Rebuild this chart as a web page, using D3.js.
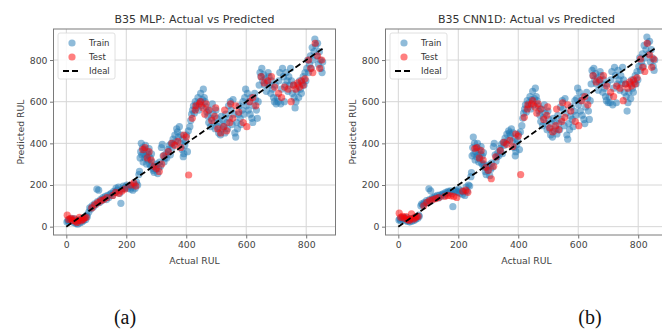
<!DOCTYPE html>
<html>
<head>
<meta charset="utf-8">
<script src="https://cdn.jsdelivr.net/npm/d3@7"></script>
<style>
  body { margin: 0; background: #fff; }
  text { font-family: "DejaVu Sans", sans-serif; }
</style>
</head>
<body>
<div class="chart"></div>
<script>
const w = 662;
const h = 330;

const ticks = [0, 200, 400, 600, 800];
const titles = ['B35 MLP: Actual vs Predicted', 'B35 CNN1D: Actual vs Predicted'];
const captions = ['(a)', '(b)'];
const legendLabels = ['Train', 'Test', 'Ideal'];
const ideal = [0, 855];

// train: actual RUL
const trainActual = [
  2, 5, 8, 12, 15, 18, 22, 25, 28, 32, 35, 38, 42, 45, 48, 52, 55, 58, 62, 65, 68, 70,
  75, 78, 82, 86, 90, 94, 98, 102, 104, 108, 110, 114, 118, 122, 126, 130, 134, 138, 142, 146,
  150, 154, 158, 162, 166, 170, 174, 178, 182, 186, 190, 194, 198, 202, 206, 210, 214, 218,
  222, 226, 230, 234, 238, 242, 244,
  246, 248, 250, 252, 254, 256, 258, 260, 262, 264, 266, 268, 270, 272, 274, 276, 278, 280,
  282, 284, 286, 288,
  290, 293, 296, 299, 302, 305, 308, 311, 314, 317, 320, 323, 326, 329,
  332, 335, 338, 341, 344, 347, 350, 353, 356, 359, 362, 365, 368, 371, 374, 377, 380, 383,
  386, 389, 390, 392, 395, 398, 401, 404, 407,
  412, 415, 418, 421, 424, 427, 430, 433, 436, 439, 442, 445, 448, 451, 454, 457, 460, 463, 466, 469,
  472, 475, 478, 481, 484, 487, 490, 493, 496, 499, 502, 505, 508, 511, 514, 517, 520, 523,
  526, 529, 532, 535, 538, 541, 544, 547, 550, 553, 556, 559,
  562, 565, 568, 571, 574, 577, 580, 583, 586, 589, 592, 595, 598, 601, 604, 607, 610, 613,
  616, 619, 622, 625, 628, 631, 634, 637, 640,
  643, 646, 649, 652, 655, 658, 661, 664, 667, 670, 673, 676, 679, 682, 685, 688, 691, 694, 697, 700,
  703, 706, 709, 712, 715, 718, 721, 724, 727, 730, 733, 736, 739, 742, 745, 748, 751, 754, 757, 760,
  763, 766, 769, 772, 775, 778, 781, 784, 787, 790, 793, 796, 799,
  802, 805, 808, 811, 814, 817, 820, 823, 826, 829, 832, 835, 838, 841, 844, 847, 850, 853, 855
];

// train: MLP predicted RUL
const mlpTrain = [
  22, 30, 25, 35, 28, 40, 32, 20, 38, 15, 25, 12, 30, 18, 35, 22, 40, 30, 45, 35, 55, 48,
  70, 90, 85, 100, 95, 110, 105, 180, 120, 175, 115, 130, 125, 140, 135, 145, 130, 150, 140, 155,
  160, 150, 170, 165, 185, 175, 190, 160, 112, 180, 195, 185, 190, 200, 185, 195, 180, 190,
  175, 205, 185, 215, 200, 250, 265,
  330, 360, 400, 345, 380, 310, 350, 370, 330, 390, 340, 300, 360, 320, 345, 375, 300, 330,
  290, 350, 310, 280,
  270, 260, 290, 275, 300, 255, 280, 310, 290, 380, 395, 340, 310, 330,
  350, 330, 370, 360, 390, 345, 400, 380, 420, 395, 440, 410, 470, 455, 430, 480, 400, 440,
  370, 420, 336, 350, 390, 410, 440, 360, 460,
  480, 510, 540, 560, 580, 545, 600, 570, 590, 620, 560, 600, 640, 580, 610, 660, 620, 600, 575, 550,
  530, 500, 560, 480, 520, 590, 540, 500, 470, 560, 520, 480, 450, 500, 440, 530, 470, 510,
  480, 450, 540, 500, 470, 580, 520, 600, 560, 490, 610, 540,
  450, 430, 500, 470, 540, 580, 520, 490, 560, 600, 540, 620, 660, 580, 640, 560, 600, 540,
  620, 520, 500, 580, 640, 610, 560, 520, 600,
  680, 740, 720, 760, 700, 730, 680, 710, 650, 690, 740, 720, 680, 640, 700, 660, 620, 600, 680, 590,
  620, 600, 700, 740, 590, 660, 760, 720, 600, 680, 740, 700, 650, 720, 680, 760, 700, 640, 680, 620,
  570, 600, 650, 680, 620, 700, 660, 640, 690, 720, 680, 740, 700,
  760, 800, 740, 780, 820, 760, 860, 800, 840, 900, 870, 820, 880, 780, 840, 800, 760, 740, 790
];

// train: CNN1D predicted RUL
const cnnTrain = [
  32, 38, 30, 42, 35, 45, 40, 28, 44, 25, 32, 22, 38, 26, 40, 30, 45, 36, 48, 40, 55, 50,
  100, 110, 105, 115, 112, 125, 118, 182, 130, 172, 125, 140, 135, 145, 140, 150, 138, 152, 145, 155,
  158, 150, 165, 160, 170, 165, 172, 158, 96, 168, 175, 170, 165, 180, 160, 172, 155, 168,
  150, 190, 170, 200, 195, 240, 260,
  340, 380, 430, 350, 400, 320, 360, 380, 335, 400, 345, 310, 370, 325, 350, 385, 305, 340,
  295, 355, 300, 285,
  265, 250, 285, 270, 295, 245, 275, 305, 285, 385, 400, 345, 315, 335,
  355, 340, 375, 365, 395, 350, 405, 390, 425, 400, 445, 415, 460, 450, 440, 470, 410, 450,
  380, 425, 340, 360, 395, 415, 445, 370, 455,
  485, 520, 545, 565, 585, 550, 605, 575, 595, 625, 565, 610, 650, 585, 615, 665, 625, 605, 580, 555,
  535, 505, 565, 485, 525, 585, 545, 495, 465, 555, 515, 470, 440, 495, 430, 520, 460, 505,
  470, 445, 535, 495, 465, 575, 515, 605, 565, 485, 615, 545,
  440, 420, 495, 465, 530, 575, 515, 480, 555, 605, 535, 615, 665, 585, 645, 555, 605, 535,
  625, 515, 495, 575, 645, 615, 555, 515, 605,
  685, 750, 725, 760, 705, 735, 685, 715, 655, 695, 745, 725, 685, 645, 705, 665, 625, 605, 685, 595,
  625, 595, 705, 745, 585, 665, 765, 725, 595, 685, 750, 705, 655, 725, 685, 765, 705, 645, 685, 625,
  555, 595, 645, 685, 615, 705, 665, 645, 695, 725, 685, 745, 705,
  770, 810, 750, 790, 830, 770, 870, 810, 850, 910, 880, 830, 890, 790, 850, 810, 770, 750, 800
];

// test: actual RUL
const testActual = [
  3, 8, 14, 20, 26, 30, 36, 40, 44, 50, 56, 60, 66,
  85, 95, 105, 115, 125, 135, 155, 165, 175, 185, 195, 215, 225, 232,
  255, 262, 270, 276, 283,
  292, 300, 310, 318, 325,
  340, 352, 362, 372, 382, 392, 400,
  408,
  420, 432, 444, 456, 466,
  475, 485, 495, 505, 515, 525, 535, 545, 555,
  565, 575, 590, 602, 612, 622, 632,
  650, 660, 672, 684, 695,
  708, 718, 728, 740, 750, 758,
  765, 772, 778, 784, 790, 796,
  808, 815, 822, 830, 838, 845, 852,
  430, 448, 462, 498, 528, 548
];

const mlpTest = [
  55, 35, 40, 30, 38, 25, 20, 30, 45, 28, 35, 42, 45,
  90, 105, 115, 125, 130, 140, 150, 165, 160, 170, 180, 200, 210, 195,
  370, 380, 330, 360, 320,
  290, 280, 265, 300, 340,
  360, 400, 390, 410, 380, 440, 430,
  248,
  520, 580, 590, 570, 590,
  560, 510, 530, 470, 450, 480, 460, 500, 520,
  580, 550, 500, 480, 600, 620, 580,
  720, 690, 700, 720, 670,
  640, 620, 670, 660, 600, 680,
  660, 690, 670, 700, 680, 710,
  800, 760, 740, 880, 820, 760, 800,
  560, 600, 540, 570, 560, 590
];

const cnnTest = [
  65, 45, 50, 40, 48, 35, 30, 38, 62, 36, 42, 48, 50,
  100, 115, 125, 130, 135, 140, 145, 150, 148, 145, 140, 170, 175, 165,
  375, 380, 330, 365, 320,
  285, 270, 230, 290, 335,
  365, 405, 395, 415, 385, 445, 435,
  250,
  525, 585, 590, 575, 590,
  565, 515, 535, 475, 455, 485, 465, 505, 525,
  585, 555, 505, 485, 605, 625, 585,
  725, 695, 705, 725, 675,
  645, 625, 675, 665, 605, 685,
  665, 695, 675, 705, 685, 715,
  805, 765, 745, 880, 825, 765, 805,
  565, 605, 545, 575, 565, 595
];

const panels = [
  { left: 53.5, train: mlpTrain, test: mlpTest },
  { left: 385.5, train: cnnTrain, test: cnnTest }
];

const svg = d3.select('.chart').append('svg')
  .attr('width', w)
  .attr('height', h);

const plotTop = 29;
const plotBottom = 235;
const pw = 282;

panels.forEach((p, k) => {
  const x = d3.scaleLinear().domain([-42.75, 897.75]).range([p.left, p.left + pw]);
  const y = d3.scaleLinear().domain([-40, 949]).range([plotBottom, plotTop]);
  const g = svg.append('g');

  // grid
  g.selectAll('.gx').data(ticks).enter().append('line')
    .attr('x1', (d) => x(d)).attr('x2', (d) => x(d))
    .attr('y1', plotTop).attr('y2', plotBottom)
    .attr('stroke', '#d6d6d6').attr('stroke-width', 1);
  g.selectAll('.gy').data(ticks).enter().append('line')
    .attr('x1', p.left).attr('x2', p.left + pw)
    .attr('y1', (d) => y(d)).attr('y2', (d) => y(d))
    .attr('stroke', '#d6d6d6').attr('stroke-width', 1);

  // scatter
  g.selectAll('.tr').data(trainActual).enter().append('circle')
    .attr('cx', (d) => x(d))
    .attr('cy', (d, i) => y(p.train[i]))
    .attr('r', 3.6)
    .attr('fill', '#1f77b4')
    .attr('fill-opacity', 0.5);
  g.selectAll('.te').data(testActual).enter().append('circle')
    .attr('cx', (d) => x(d))
    .attr('cy', (d, i) => y(p.test[i]))
    .attr('r', 3.6)
    .attr('fill', '#ff0000')
    .attr('fill-opacity', 0.5);

  // ideal line
  g.append('line')
    .attr('x1', x(ideal[0])).attr('y1', y(ideal[0]))
    .attr('x2', x(ideal[1])).attr('y2', y(ideal[1]))
    .attr('stroke', '#000').attr('stroke-width', 1.8)
    .attr('stroke-dasharray', '6,3');

  // axes
  const xAxis = d3.axisBottom(x).tickValues(ticks).tickSize(3.5).tickPadding(2.5);
  const yAxis = d3.axisLeft(y).tickValues(ticks).tickSize(3.5).tickPadding(2.5);
  const gx = g.append('g').attr('transform', `translate(0,${plotBottom})`).call(xAxis);
  const gy = g.append('g').attr('transform', `translate(${p.left},0)`).call(yAxis);
  [gx, gy].forEach((a) => {
    a.select('.domain').remove();
    a.selectAll('line').attr('stroke', '#777');
    a.selectAll('text').attr('fill', '#444').style('font-size', '9.3px')
      .style('font-family', 'DejaVu Sans');
  });

  // frame
  g.append('rect')
    .attr('x', p.left).attr('y', plotTop)
    .attr('width', pw).attr('height', plotBottom - plotTop)
    .attr('fill', 'none').attr('stroke', '#7a7a7a').attr('stroke-width', 1);

  // titles and labels
  g.append('text')
    .attr('x', p.left + 141).attr('y', 23)
    .attr('text-anchor', 'middle')
    .attr('fill', '#333').style('font-size', '11px')
    .text(titles[k]);
  g.append('text')
    .attr('x', p.left + 141).attr('y', 264)
    .attr('text-anchor', 'middle')
    .attr('fill', '#444').style('font-size', '9.3px')
    .text('Actual RUL');
  g.append('text')
    .attr('transform', `translate(${p.left - 30},132) rotate(-90)`)
    .attr('text-anchor', 'middle')
    .attr('fill', '#444').style('font-size', '9.3px')
    .text('Predicted RUL');

  // legend
  const lx = p.left + 4.5;
  const ly = 33;
  const lg = g.append('g');
  lg.append('rect')
    .attr('x', lx).attr('y', ly).attr('width', 57).attr('height', 46).attr('rx', 2)
    .attr('fill', '#fff').attr('fill-opacity', 0.85)
    .attr('stroke', '#d8d8d8').attr('stroke-width', 0.8);
  lg.append('circle').attr('cx', lx + 14).attr('cy', ly + 10).attr('r', 3.6)
    .attr('fill', '#1f77b4').attr('fill-opacity', 0.5);
  lg.append('circle').attr('cx', lx + 14).attr('cy', ly + 24).attr('r', 3.6)
    .attr('fill', '#ff0000').attr('fill-opacity', 0.5);
  lg.append('line')
    .attr('x1', lx + 5).attr('x2', lx + 23).attr('y1', ly + 38).attr('y2', ly + 38)
    .attr('stroke', '#000').attr('stroke-width', 1.8).attr('stroke-dasharray', '6,3');
  lg.selectAll('.lt').data(legendLabels).enter().append('text')
    .attr('x', lx + 31).attr('y', (d, i) => ly + 13 + i * 14)
    .attr('fill', '#333').style('font-size', '8.5px')
    .text((d) => d);

  // caption
  svg.append('text')
    .attr('x', k === 0 ? 125 : 590).attr('y', 324)
    .attr('text-anchor', 'middle')
    .style('font-family', '"Liberation Serif", serif')
    .style('font-size', '20px')
    .attr('fill', '#111')
    .text(captions[k]);
});
</script>
</body>
</html>
